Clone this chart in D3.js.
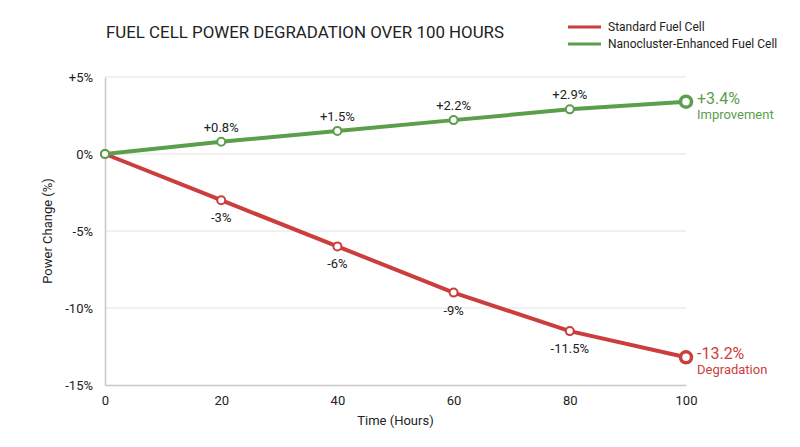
<!DOCTYPE html>
<html>
<head>
<meta charset="utf-8">
<script src="https://cdn.jsdelivr.net/npm/d3@7"></script>
<style>
  body { margin: 0; background: #fff; }
  svg { font-family: Roboto, "Noto Sans", sans-serif; }
</style>
</head>
<body>
<div id="chart"></div>
<script>
// data
const hours = [0, 20, 40, 60, 80, 100];
const standardValues = [0, -3, -6, -9, -11.5, -13.2];
const enhancedValues = [0, 0.8, 1.5, 2.2, 2.9, 3.4];
const standardLabels = ["", "-3%", "-6%", "-9%", "-11.5%", "-13.2%"];
const enhancedLabels = ["", "+0.8%", "+1.5%", "+2.2%", "+2.9%", "+3.4%"];
const yTicks = [5, 0, -5, -10, -15];
const yTickLabels = ["+5%", "0%", "-5%", "-10%", "-15%"];
const seriesNames = ["Standard Fuel Cell", "Nanocluster-Enhanced Fuel Cell"];

const width = 800;
const height = 447;
const red = "#cc3d3d";
const green = "#5b9e4c";

const svg = d3.select("#chart").append("svg").attr("width", width).attr("height", height);

//scales
const xscale = d3.scaleLinear().domain([0, 100]).range([105, 686]);
const yscale = d3.scaleLinear().domain([-15, 5]).range([385, 77]);

//grid lines
svg.append("g").selectAll("line").data(yTicks.filter(d => d > -15))
    .enter().append("line")
    .attr("x1", xscale(0)).attr("x2", xscale(100))
    .attr("y1", d => yscale(d)).attr("y2", d => yscale(d))
    .attr("stroke", "#e2e2e2").attr("stroke-width", 1);

//x axis
const xAxis = d3.axisBottom(xscale).tickValues(hours).tickSize(0).tickPadding(11);
const gx = svg.append("g").attr("transform", `translate(0, ${yscale(-15)})`).call(xAxis);
gx.select(".domain").attr("stroke", "#c8c8c8").attr("stroke-width", 1.5);
gx.selectAll("text").attr("font-size", 13).attr("fill", "#222").attr("font-family", "Roboto");

//y axis
const yAxis = d3.axisLeft(yscale).tickValues(yTicks).tickSize(0).tickPadding(12)
    .tickFormat((d, i) => yTickLabels[i]);
const gy = svg.append("g").attr("transform", `translate(${xscale(0)}, 0)`).call(yAxis);
gy.select(".domain").attr("stroke", "#c8c8c8").attr("stroke-width", 1.5);
gy.selectAll("text").attr("font-size", 13).attr("fill", "#222").attr("font-family", "Roboto");

//axis titles
svg.append("text").attr("x", (xscale(0) + xscale(100)) / 2).attr("y", 425)
    .attr("text-anchor", "middle").attr("font-size", 13).attr("fill", "#222").text("Time (Hours)");
svg.append("text").attr("transform", `translate(52, ${yscale(-5)}) rotate(-90)`)
    .attr("text-anchor", "middle").attr("font-size", 13).attr("fill", "#222").text("Power Change (%)");

//title
svg.append("text").attr("x", 106).attr("y", 38).attr("font-size", 16).attr("fill", "#222")
    .attr("textLength", 398).attr("lengthAdjust", "spacingAndGlyphs")
    .text("FUEL CELL POWER DEGRADATION OVER 100 HOURS");

//legend
const legend = svg.append("g").attr("transform", "translate(568, 0)");
[red, green].forEach((c, i) => {
    legend.append("line").attr("x1", 0).attr("x2", 33).attr("y1", 27 + i * 17).attr("y2", 27 + i * 17)
        .attr("stroke", c).attr("stroke-width", 3);
    legend.append("text").attr("x", 40).attr("y", 31 + i * 17).attr("font-size", 12).attr("fill", "#222")
        .text(seriesNames[i]);
});

//lines
const line = d3.line().x((d, i) => xscale(hours[i])).y(d => yscale(d));
const series = [
    { values: standardValues, labels: standardLabels, color: red, dy: 22, tag: "Degradation" },
    { values: enhancedValues, labels: enhancedLabels, color: green, dy: -10, tag: "Improvement" }
];

series.forEach(s => {
    svg.append("path").datum(s.values).attr("d", line)
        .attr("fill", "none").attr("stroke", s.color).attr("stroke-width", 4)
        .attr("stroke-linejoin", "round");

    svg.append("g").selectAll("circle").data(s.values).enter().append("circle")
        .attr("cx", (d, i) => xscale(hours[i])).attr("cy", d => yscale(d))
        .attr("r", (d, i) => i === s.values.length - 1 ? 5.5 : 4)
        .attr("fill", "#fff").attr("stroke", s.color)
        .attr("stroke-width", (d, i) => i === s.values.length - 1 ? 3.5 : 2);

    //point labels
    svg.append("g").selectAll("text").data(s.values.slice(1, -1)).enter().append("text")
        .attr("x", (d, i) => xscale(hours[i + 1])).attr("y", d => yscale(d) + s.dy)
        .attr("text-anchor", "middle").attr("font-size", 13).attr("fill", "#222")
        .text((d, i) => s.labels[i + 1]);

    //end label
    const last = s.values.length - 1;
    svg.append("text").attr("x", xscale(100) + 11).attr("y", yscale(s.values[last]) + 2)
        .attr("font-size", 16).attr("fill", s.color).text(s.labels[last]);
    svg.append("text").attr("x", xscale(100) + 11).attr("y", yscale(s.values[last]) + 17)
        .attr("font-size", 13).attr("fill", s.color).text(s.tag);
});
</script>
</body>
</html>
